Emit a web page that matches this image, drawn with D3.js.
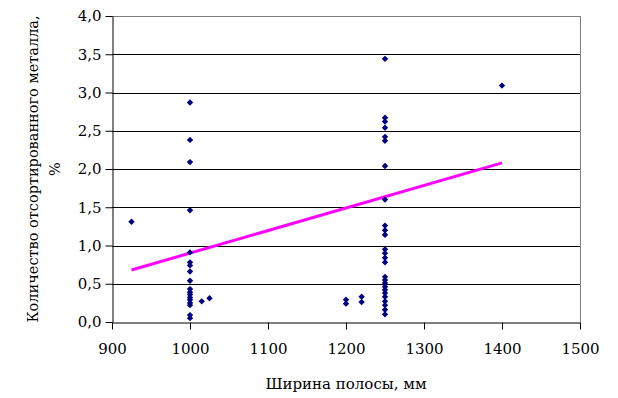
<!DOCTYPE html>
<html>
<head>
<meta charset="utf-8">
<script src="https://cdn.jsdelivr.net/npm/d3@7"></script>
<style>
  body { margin: 0; background: #fff; }
  svg { display: block; }
  svg text { fill: #000; }
</style>
</head>
<body>
<div id="chart"></div>
<script>
// Scatter: share of sorted-out metal vs strip width, with linear trend

// measurements grouped by strip width
const amounts1000 = [2.87, 2.38, 2.09, 1.46, 0.91, 0.78, 0.74, 0.66, 0.54, 0.43, 0.39, 0.36, 0.32, 0.29, 0.25, 0.22, 0.09, 0.05];
const amounts1250 = [3.44, 2.67, 2.62, 2.54, 2.42, 2.37, 2.04, 1.60, 1.26, 1.20, 1.14, 0.95, 0.90, 0.84, 0.78,
                     0.59, 0.55, 0.51, 0.46, 0.42, 0.38, 0.33, 0.27, 0.22, 0.16, 0.10];
// single points elsewhere
const otherWidths  = [925, 1015, 1025, 1200, 1200, 1220, 1220, 1400];
const otherAmounts = [1.31, 0.27, 0.31, 0.29, 0.24, 0.33, 0.26, 3.09];

// trend line ends
const trendWidths  = [925, 1400];
const trendAmounts = [0.68, 2.08];

const xTicks = [900, 1000, 1100, 1200, 1300, 1400, 1500];
const yTicks = [0, 0.5, 1, 1.5, 2, 2.5, 3, 3.5, 4];

const W = 618, H = 398;
const mLeft = 112, mRight = 580, mTop = 16, mBottom = 322;
// "Liberation Serif" falls back to a sans face here, DejaVu Serif is the serif that loads
const serif = 'DejaVu Serif';

const points = []
    .concat(amounts1000.map(v => ({ x: 1000, y: v })))
    .concat(amounts1250.map(v => ({ x: 1250, y: v })))
    .concat(otherWidths.map((w, i) => ({ x: w, y: otherAmounts[i] })));

const x = d3.scaleLinear().domain([900, 1500]).range([mLeft, mRight]);
const y = d3.scaleLinear().domain([0, 4]).range([mBottom, mTop]);

const svg = d3.select('#chart').append('svg')
    .attr('width', W)
    .attr('height', H)
    .style('font-family', serif);

// gridlines
svg.append('g')
    .selectAll('line')
    .data(yTicks.filter(t => t > 0))
    .join('line')
    .attr('x1', mLeft).attr('x2', mRight)
    .attr('y1', d => Math.round(y(d)) + 0.5)
    .attr('y2', d => Math.round(y(d)) + 0.5)
    .attr('stroke', d => d === 4 ? '#808080' : '#000')
    .attr('stroke-width', 1);

// right border
svg.append('line')
    .attr('x1', mRight + 0.5).attr('x2', mRight + 0.5)
    .attr('y1', mTop).attr('y2', mBottom)
    .attr('stroke', '#808080');

const fmt = d => d3.format('.1f')(d).replace('.', ',');

const yAxis = svg.append('g')
    .attr('transform', `translate(${mLeft + 0.5},0)`)
    .call(d3.axisLeft(y).tickValues(yTicks).tickSize(7).tickSizeOuter(0).tickPadding(4).tickFormat(fmt));

const xAxis = svg.append('g')
    .attr('transform', `translate(0,${mBottom + 0.5})`)
    .call(d3.axisBottom(x).tickValues(xTicks).tickSize(7).tickSizeOuter(0).tickPadding(14).tickFormat(d3.format('d')));

[yAxis, xAxis].forEach(a => {
    a.attr('font-family', null).attr('font-size', 15);
    a.select('.domain').attr('stroke', '#000');
    a.selectAll('.tick line').attr('stroke', '#000');
    a.selectAll('.tick text').attr('fill', '#000');
});

// trend line
svg.append('path')
    .datum(trendWidths.map((w, i) => [w, trendAmounts[i]]))
    .attr('d', d3.line().x(d => x(d[0])).y(d => y(d[1])))
    .attr('stroke', '#ff00ff')
    .attr('stroke-width', 3)
    .attr('fill', 'none');

// points
svg.append('g')
    .selectAll('path')
    .data(points)
    .join('path')
    .attr('transform', d => `translate(${x(d.x)},${y(d.y)})`)
    .attr('d', d3.symbol(d3.symbolDiamond2, 26))
    .attr('fill', '#000080');

// axis titles
svg.append('text')
    .attr('x', (mLeft + mRight) / 2)
    .attr('y', 389)
    .attr('text-anchor', 'middle')
    .attr('font-size', 15)
    .text('Ширина полосы, мм');

const yTitle = svg.append('text')
    .attr('transform', `translate(0,${(mTop + mBottom) / 2}) rotate(-90)`)
    .attr('text-anchor', 'middle')
    .attr('font-size', 14.5);
yTitle.append('tspan').attr('x', 0).attr('y', 38).text('Количество отсортированного металла,');
yTitle.append('tspan').attr('x', 0).attr('y', 60).text('%');
</script>
</body>
</html>
